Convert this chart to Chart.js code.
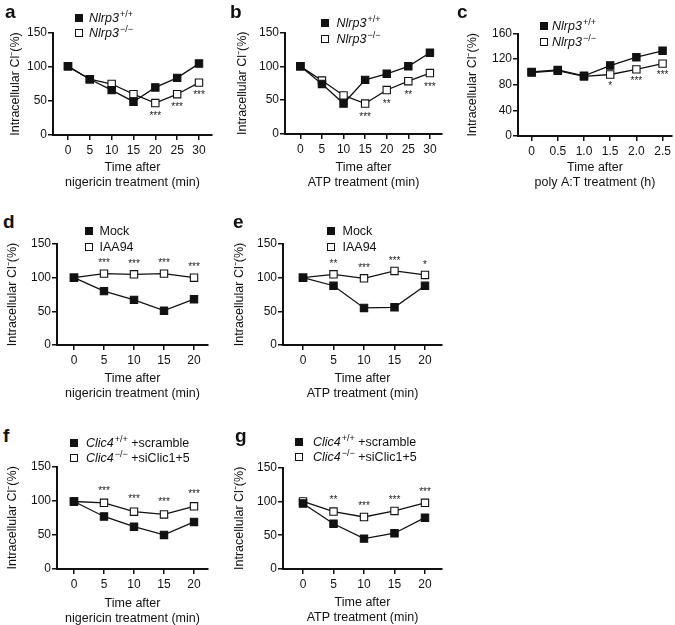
<!DOCTYPE html>
<html><head><meta charset="utf-8">
<script src="https://cdn.jsdelivr.net/npm/chart.js@4.4.0/dist/chart.umd.min.js"></script>
<style>
html,body{margin:0;padding:0;width:675px;height:625px;overflow:hidden;background:#fff;font-family:"Liberation Sans",Arial,sans-serif;color:#111;}
canvas{position:absolute;}
.lbl{position:absolute;font-weight:bold;font-size:19px;line-height:19px;}
.leg{position:absolute;font-size:12.5px;white-space:nowrap;}
.leg .row{display:flex;align-items:center;}
.sq{display:inline-block;width:8px;height:8px;box-sizing:border-box;border:1.3px solid #111;flex:none;}
.sq.f{background:#111}
.sq.o{background:#fff}
.leg i{font-style:italic}
.leg sup{font-size:9px;position:relative;top:-5px;line-height:0;vertical-align:baseline;margin-left:1px;}
</style></head>
<body>
<script>
// ---- data ----
const timesA = [0, 5, 10, 15, 20, 25, 30];
const tickLabelsA = ['0', '5', '10', '15', '20', '25', '30'];
const timesC = [0, 0.5, 1.0, 1.5, 2.0, 2.5];
const tickLabelsC = ['0', '0.5', '1.0', '1.5', '2.0', '2.5'];
const timesD = [0, 5, 10, 15, 20];
const tickLabelsD = ['0', '5', '10', '15', '20'];
const yTicks150 = [0, 50, 100, 150];
const yTicks160 = [0, 40, 80, 120, 160];

const aWT = [101, 82, 66, 49, 70, 84, 105];
const aKO = [101, 82, 75, 60, 47, 60, 77];
const aStars = ['', '', '', '', '***', '***', '***'];

const bWT = [100, 74, 45, 80, 89, 100, 120];
const bKO = [100, 79, 57, 45, 65, 78, 90];
const bStars = ['', '', '', '***', '**', '**', '***'];

const cWT = [100, 103, 94, 110, 123, 133];
const cKO = [99, 102, 93, 96, 104, 113];
const cStars = ['', '', '', '*', '***', '***'];

const dMock = [100, 80, 67, 51, 68];
const dIAA94 = [100, 106, 105, 106, 100];
const dStars = ['', '***', '***', '***', '***'];

const eMock = [100, 88, 55, 56, 88];
const eIAA94 = [100, 105, 99, 110, 104];
const eStars = ['', '**', '***', '***', '*'];

const fScramble = [99, 77, 62, 50, 69];
const fSiClic = [99, 97, 84, 80, 92];
const fStars = ['', '***', '***', '***', '***'];

const gScramble = [97, 67, 45, 53, 76];
const gSiClic = [100, 85, 77, 86, 98];
const gStars = ['', '**', '***', '***', '***'];

const yTitle = 'Intracellular Cl\u207B(%)';
const xTitleNig = ['Time after', 'nigericin treatment (min)'];
const xTitleATP = ['Time after', 'ATP treatment (min)'];
const xTitlePoly = ['Time after', 'poly A:T treatment (h)'];

const legNlrp = ['<i>Nlrp3</i><sup>+/+</sup>', '<i>Nlrp3</i><sup>\u2212/\u2212</sup>'];
const legMock = ['Mock', 'IAA94'];
const legClic = ['<i>Clic4</i><sup>+/+</sup>&nbsp;+scramble', '<i>Clic4</i><sup>\u2212/\u2212</sup>&nbsp;+siClic1+5'];

// ---- layout ----
const panels = [
  {id:'a', xs:timesA, xl:tickLabelsA, yt:yTicks150, ymax:150, s1:aWT, s2:aKO, stars:aStars, soff:13, xt:xTitleNig, leg:legNlrp,
   cx:8, T:33, B:135, L:53, R:212, H:55.5, xmin:-3.43, xmax:32.98, lx:75, ly1:17.5, ly2:33, gap:6, letter:[5,18]},
  {id:'b', xs:timesA, xl:tickLabelsA, yt:yTicks150, ymax:150, s1:bWT, s2:bKO, stars:bStars, soff:14, xt:xTitleATP, leg:legNlrp,
   cx:235, T:32.5, B:134, L:285, R:442, H:56.5, xmin:-3.56, xmax:32.8, lx:321, ly1:22.5, ly2:38.5, gap:7.5, letter:[230,18]},
  {id:'c', xs:timesC, xl:tickLabelsC, yt:yTicks160, ymax:160, s1:cWT, s2:cKO, stars:cStars, soff:12, xt:xTitlePoly, leg:legNlrp,
   cx:465, T:33.5, B:136, L:518, R:672, H:54.5, xmin:-0.26, xmax:2.68, lx:540, ly1:26, ly2:42, gap:4, letter:[457,18]},
  {id:'d', xs:timesD, xl:tickLabelsD, yt:yTicks150, ymax:150, s1:dMock, s2:dIAA94, stars:dStars, soff:-10, xt:xTitleNig, leg:legMock,
   cx:5, T:244, B:345, L:57, R:208, H:56.2, xmin:-2.83, xmax:22.33, lx:85, ly1:231, ly2:246.5, gap:6.5, letter:[3,227.5]},
  {id:'e', xs:timesD, xl:tickLabelsD, yt:yTicks150, ymax:150, s1:eMock, s2:eIAA94, stars:eStars, soff:-10, xt:xTitleATP, leg:legMock,
   cx:232, T:244, B:345, L:283, R:442, H:56.2, xmin:-3.28, xmax:22.79, lx:327, ly1:231, ly2:246.5, gap:7.5, letter:[233,227.5]},
  {id:'f', xs:timesD, xl:tickLabelsD, yt:yTicks150, ymax:150, s1:fScramble, s2:fSiClic, stars:fStars, soff:-12, xt:xTitleNig, leg:legClic,
   cx:5, T:466.7, B:569, L:57, R:208, H:57, xmin:-2.83, xmax:22.33, lx:70, ly1:443, ly2:458, gap:8, letter:[3,442]},
  {id:'g', xs:timesD, xl:tickLabelsD, yt:yTicks150, ymax:150, s1:gScramble, s2:gSiClic, stars:gStars, soff:-11, xt:xTitleATP, leg:legClic,
   cx:232, T:467.7, B:569, L:283, R:442, H:56, xmin:-3.28, xmax:22.79, lx:295, ly1:442, ly2:457, gap:10, letter:[235,442]}
];

const INK = '#111';
const starPlugin = {
  id: 'stars',
  afterDatasetsDraw(chart, args, opts) {
    const meta = chart.getDatasetMeta(1);
    const ctx = chart.ctx;
    ctx.save();
    ctx.font = '10px "Liberation Sans", Arial, sans-serif';
    ctx.fillStyle = '#222';
    ctx.textAlign = 'center';
    ctx.textBaseline = 'middle';
    opts.labels.forEach((t, i) => {
      if (!t) return;
      const pt = meta.data[i];
      ctx.fillText(t, pt.x, pt.y + opts.offset);
    });
    ctx.restore();
  }
};

function ds(xs, ys, fill) {
  return {
    data: xs.map((x, i) => ({x: x, y: ys[i]})),
    borderColor: INK, borderWidth: 1.3, tension: 0,
    pointStyle: 'rect', pointRadius: 5.2, pointHoverRadius: 5.2,
    pointBackgroundColor: fill, pointBorderColor: INK, pointBorderWidth: 1.1
  };
}

panels.forEach(p => {
  const top = Math.round(p.T - 12);
  const padTop = p.T - top;
  const width = Math.ceil(p.R - p.cx + 8);
  const padRight = width - (p.R - p.cx);
  const inner = padTop + (p.B - p.T) + p.H;
  const height = Math.ceil(inner);
  const padBottom = height - inner;
  const W = p.L - p.cx;

  const cv = document.createElement('canvas');
  cv.width = width; cv.height = height;
  cv.style.left = p.cx + 'px'; cv.style.top = top + 'px';
  document.body.appendChild(cv);

  new Chart(cv, {
    type: 'line',
    data: {datasets: [ds(p.xs, p.s1, INK), ds(p.xs, p.s2, '#fff')]},
    options: {
      responsive: false, animation: false, devicePixelRatio: 1, events: [],
      layout: {padding: {left: 0, top: padTop, right: padRight, bottom: padBottom}},
      plugins: {legend: {display: false}, tooltip: {enabled: false}, stars: {labels: p.stars, offset: p.soff}},
      scales: {
        x: {
          type: 'linear', min: p.xmin, max: p.xmax, bounds: 'data',
          afterBuildTicks: s => { s.ticks = p.xs.map(v => ({value: v})); },
          afterFit: s => { s.height = p.H; },
          ticks: {callback: v => p.xl[p.xs.indexOf(v)], font: {size: 12, family: '"Liberation Sans", Arial, sans-serif'}, color: INK, padding: 3, maxRotation: 0, autoSkip: false},
          grid: {display: true, drawOnChartArea: false, drawTicks: true, tickLength: 5, color: INK, lineWidth: 1.5},
          border: {display: true, color: INK, width: 2},
          title: {display: true, text: p.xt, font: {size: 12.5, lineHeight: 1.2, family: '"Liberation Sans", Arial, sans-serif'}, color: INK, padding: 0}
        },
        y: {
          type: 'linear', min: 0, max: p.ymax, bounds: 'data',
          afterBuildTicks: s => { s.ticks = p.yt.map(v => ({value: v})); },
          afterFit: s => { s.width = W; },
          ticks: {font: {size: 12, family: '"Liberation Sans", Arial, sans-serif'}, color: INK, padding: 1},
          grid: {display: true, drawOnChartArea: false, drawTicks: true, tickLength: 5, color: INK, lineWidth: 1.5},
          border: {display: true, color: INK, width: 2},
          title: {display: true, text: yTitle, font: {size: 12.5, lineHeight: 1.2, family: '"Liberation Sans", Arial, sans-serif'}, color: INK, padding: 0}
        }
      }
    },
    plugins: [starPlugin]
  });

  // panel letter
  const lb = document.createElement('div');
  lb.className = 'lbl';
  lb.textContent = p.id;
  lb.style.left = p.letter[0] + 'px';
  lb.style.top = (p.letter[1] - 16) + 'px';
  document.body.appendChild(lb);

  // legend
  const rowH = p.ly2 - p.ly1;
  const lg = document.createElement('div');
  lg.className = 'leg';
  lg.style.left = p.lx + 'px';
  lg.style.top = (p.ly1 - rowH / 2) + 'px';
  lg.innerHTML = p.leg.map((t, i) =>
    '<div class="row" style="height:' + rowH + 'px"><span class="sq ' + (i === 0 ? 'f' : 'o') + '"></span><span style="margin-left:' + p.gap + 'px">' + t + '</span></div>'
  ).join('');
  document.body.appendChild(lg);
});
</script>
</body></html>
